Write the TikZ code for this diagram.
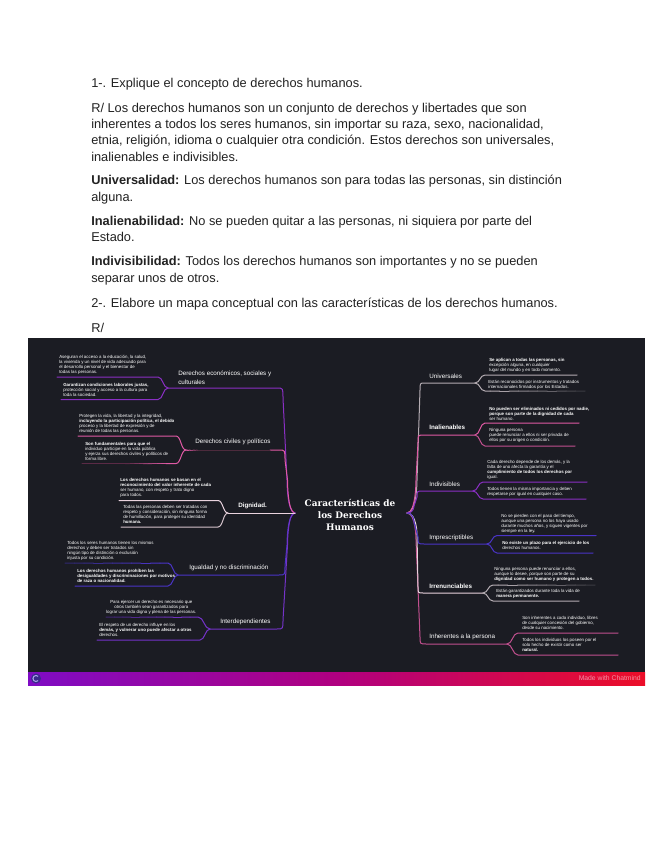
\documentclass[tikz,border=0pt]{standalone}
\usepackage{fontspec}
\setmainfont{Liberation Sans}
\newfontfamily\rootfont{DejaVu Serif}
\usetikzlibrary{calc}
\definecolor{bgdark}{HTML}{1B1C23}
\definecolor{bodyink}{HTML}{222222}
\definecolor{cpurple}{HTML}{8A2FC4}
\definecolor{cpink}{HTML}{E05AA5}
\definecolor{cpale}{HTML}{EAD3DE}
\definecolor{cblue}{HTML}{4A34C6}
\definecolor{cviolet}{HTML}{7433C8}
\definecolor{cgray}{HTML}{B4ACB2}
\definecolor{crose}{HTML}{C2508F}
\definecolor{cdarkgray}{HTML}{3B3B42}
\definecolor{cmaroon}{HTML}{4C2A3C}
\definecolor{cdarkblue}{HTML}{2F2870}
\definecolor{cdarkviolet}{HTML}{3E2470}
\definecolor{cdarkrose}{HTML}{5A2A46}
\definecolor{footL}{HTML}{7F0CC4}
\definecolor{footM}{HTML}{B00080}
\definecolor{footR}{HTML}{EC0E28}
\definecolor{logofill}{HTML}{3A2A8C}
\definecolor{logoc}{HTML}{A9A0E8}
\tikzset{
  bodyline/.style={anchor=base west,inner sep=0pt,yshift=-0.75pt,text=bodyink,font=\fontsize{9.6}{11}\selectfont},
  leaf/.style={anchor=west,inner sep=0pt,text=white,align=left,font=\fontsize{3.3}{3.75}\selectfont},
  leafc/.style={leaf,align=center},
  branchlabel/.style={anchor=west,inner sep=0pt,text=white,align=left,font=\fontsize{4.7}{6.6}\selectfont},
  rootlabel/.style={inner sep=0pt,text=white,align=center,font=\rootfont\bfseries\fontsize{6.7}{9}\selectfont},
  conn/.style={line width=0.75pt,line cap=round,line join=round},
}
% trunk: root, a, b, elbow, fork
\newcommand{\trunk}[6]{\draw[conn,#1] (#2) .. controls (#3 |- #2) and (#3) .. (#3) -- (#4) .. controls (#4 |- #5) and (#4 |- #5) .. (#5) -- (#6);}
% twig: fork, knee, end
\newcommand{\twig}[4]{\draw[conn,#1] (#2) .. controls ($(#2)!0.5!(#3 |- #2)$) and ($(#3)!0.5!(#2 |- #3)$) .. (#3) -- (#4);}
% fading straight line
\newcommand{\fadeline}[4]{\foreach \i in {0,...,9}{\pgfmathsetmacro{\ta}{\i/10}\pgfmathsetmacro{\tb}{(\i+1)/10}\pgfmathtruncatemacro{\pc}{\i*100/9}\draw[conn,color=#4!\pc!#3] ($(#1)!\ta!(#2)$) -- ($(#1)!\tb!(#2)$);}}
\begin{document}
\begin{tikzpicture}[x=0.75pt,y=-0.75pt]
\useasboundingbox (0,0) rectangle (655,848);
\fill[white] (0,0) rectangle (655,848);
% body text
\node[bodyline] (p1) at (91,87) {1-. Explique el concepto de derechos humanos.};
\node[bodyline] (p2a) at (91,112) {R/ Los derechos humanos son un conjunto de derechos y libertades que son};
\node[bodyline] (p2b) at (91,128) {inherentes a todos los seres humanos, sin importar su raza, sexo, nacionalidad,};
\node[bodyline] (p2c) at (91,144) {etnia, religión, idioma o cualquier otra condición. Estos derechos son universales,};
\node[bodyline] (p2d) at (91,161) {inalienables e indivisibles.};
\node[bodyline] (p3a) at (91,184) {\textbf{Universalidad:} Los derechos humanos son para todas las personas, sin distinción};
\node[bodyline] (p3b) at (91,201) {alguna.};
\node[bodyline] (p4a) at (91,225) {\textbf{Inalienabilidad:} No se pueden quitar a las personas, ni siquiera por parte del};
\node[bodyline] (p4b) at (91,241) {Estado.};
\node[bodyline] (p5a) at (91,265) {\textbf{Indivisibilidad:} Todos los derechos humanos son importantes y no se pueden};
\node[bodyline] (p5b) at (91,281) {separar unos de otros.};
\node[bodyline] (p6) at (91,306) {2-. Elabore un mapa conceptual con las características de los derechos humanos.};
\node[bodyline] (p7) at (91,331) {R/};
% panel
\fill[bgdark] (28,338) rectangle (645,672);
\shade[left color=footL,right color=footR,middle color=footM] (28,672) rectangle (645,685);
\fill[logofill] (36,678.5) circle (5);
\draw[line width=0.8pt,color=logoc] (38.1,680.6) arc (45:315:3);
\node[anchor=east,inner sep=0pt,text=white,opacity=.55,font=\fontsize{5.1}{6}\selectfont] (made) at (641,678) {Made with Chatmind};
% root and anchors
\node[rootlabel] (root) at (350,514.5) {Características de\\los Derechos\\Humanos};
\coordinate (rL) at (295,513);
\coordinate (rR) at (407,513);
% left forks
\coordinate (fa) at (168,388); \coordinate (fb) at (186,450); \coordinate (fc) at (228,513); \coordinate (fd) at (178,575); \coordinate (fe) at (210,629);
\trunk{cpurple}{rL}{287,480}{283,398}{277,388}{fa}
\trunk{cpink}{rL}{287.5,480}{285,460}{279,450}{270,450}
\fadeline{fb}{200,450}{cpink}{cmaroon}
\draw[conn,cmaroon] (200,450) -- (270,450);
\trunk{cblue}{rL}{287,545}{285,566}{279,575}{fd}
\trunk{cviolet}{rL}{287.5,545}{283,620}{277,629}{fe}
\draw[conn,cpale] (rL) -- (fc);
% left twigs
\twig{cpurple}{fa}{158,377}{57,377}
\twig{cpurple}{fa}{158,399.5}{61,399.5}
\twig{cpink}{fb}{176,436}{78,436}
\twig{cpink}{fb}{176,463.5}{170,463.5}
\fadeline{170,463.5}{125,463.5}{cpink}{cdarkrose}
\draw[conn,cdarkrose] (125,463.5) -- (82,463.5);
\twig{cpale}{fc}{218,500.5}{119,500.5}
\twig{cpale!80!gray}{fc}{218,527}{121,527}
\twig{cblue}{fd}{168,563}{160,563}
\fadeline{160,563}{65,563}{cblue}{cdarkblue}
\twig{cblue}{fd}{168,586}{75,586}
\twig{cviolet}{fe}{198,617}{190,617}
\fadeline{190,617}{106,617}{cviolet}{cdarkviolet}
\twig{cviolet}{fe}{200,640}{97,640}
% right forks
\coordinate (ga) at (475,383); \coordinate (gb) at (475,435); \coordinate (gc) at (473,491); \coordinate (gd) at (487,544); \coordinate (ge) at (483,593); \coordinate (gf) at (507,644);
\trunk{crose}{rR}{416,540}{420,637}{426,644}{gf}
\trunk{cpale}{rR}{417,535}{418,587}{423,593}{ge}
\trunk{cgray}{rR}{417,480}{420,390}{425,383}{ga}
\trunk{cpink}{rR}{416,480}{418,442}{424,435}{gb}
\trunk{cpurple}{rR}{414,506}{417,497}{423,491}{gc}
\trunk{cblue}{rR}{414,522}{418,537}{424,544}{gd}
% right twigs
\twig{cgray}{ga}{485,375}{577,375}
\twig{cgray}{ga}{485,391}{490,391}
\fadeline{490,391}{585,391}{cgray}{cdarkgray}
\twig{cpink}{gb}{485,423}{579,423}
\twig{crose}{gb}{485,446}{575,446}
\twig{cpurple}{gc}{483,482}{587,482}
\twig{cpurple}{gc}{483,499}{586,499}
\twig{cblue}{gd}{497,535.5}{596,535.5}
\twig{cblue}{gd}{497,553}{593,553}
\twig{cgray}{ge}{493,585}{498,585}
\fadeline{498,585}{595,585}{cgray}{cdarkgray}
\twig{cgray}{ge}{493,601}{579,601}
\twig{crose}{gf}{518,633}{618,633}
\twig{crose}{gf}{518,655}{618,655}
% branch labels left
\node[branchlabel] (ba) at (178,377.5) {Derechos económicos, sociales y\\culturales};
\node[branchlabel] (bb) at (195,442) {Derechos civiles y políticos};
\node[branchlabel] (bc) at (238,506) {\textbf{Dignidad.}};
\node[branchlabel] (bd) at (189,568) {Igualdad y no discriminación};
\node[branchlabel] (be) at (220,622) {Interdependientes};
% branch labels right
\node[branchlabel] (ra) at (429,376) {Universales};
\node[branchlabel] (rb) at (429,427) {\textbf{Inalienables}};
\node[branchlabel] (rc) at (429,484) {Indivisibles};
\node[branchlabel] (rd) at (429,538) {Imprescriptibles};
\node[branchlabel] (re) at (429,586) {\textbf{Irrenunciables}};
\node[branchlabel] (rf) at (429,637) {Inherentes a la persona};
% leaf texts left
\node[leaf] (ta1) at (59,364.5) {Aseguran el acceso a la educación, la salud,\\la vivienda y un nivel de vida adecuado para\\el desarrollo personal y el bienestar de\\todas las personas.};
\node[leaf] (ta2) at (63,390) {\textbf{Garantizan condiciones laborales justas,}\\protección social y acceso a la cultura para\\toda la sociedad.};
\node[leaf] (tb1) at (79,423.5) {Protegen la vida, la libertad y la integridad,\\\textbf{incluyendo la participación política, el debido}\\proceso y la libertad de expresión y de\\reunión de todas las personas.};
\node[leaf] (tb2) at (85,451) {\textbf{Son fundamentales para que el}\\individuo participe en la vida pública\\y ejerza sus derechos civiles y políticos de\\forma libre.};
\node[leaf] (tc1) at (120,487.5) {\textbf{Los derechos humanos se basan en el}\\\textbf{reconocimiento del valor inherente de cada}\\ser humano, con respeto y trato digno\\para todos.};
\node[leaf] (tc2) at (123,514.5) {Todas las personas deben ser tratadas con\\respeto y consideración, sin ninguna forma\\de humillación, para proteger su identidad\\\textbf{humana.}};
\node[leaf] (td1) at (67,551) {Todos los seres humanos tienen los mismos\\derechos y deben ser tratados sin\\ningún tipo de distinción o exclusión\\injusta por su condición.};
\node[leaf] (td2) at (77,576) {\textbf{Los derechos humanos prohíben las}\\\textbf{desigualdades y discriminaciones por motivos}\\\textbf{de raza o nacionalidad.}};
\node[leafc] (te1) at (106,607.5) {Para ejercer un derecho es necesario que\\otros también sean garantizados para\\lograr una vida digna y plena de las personas.};
\node[leaf] (te2) at (99,630) {El respeto de un derecho influye en los\\\textbf{demás, y vulnerar uno puede afectar a otros}\\derechos.};
% leaf texts right
\node[leaf] (ua1) at (489,365) {\textbf{Se aplican a todas las personas, sin}\\excepción alguna, en cualquier\\lugar del mundo y en todo momento.};
\node[leaf] (ua2) at (488,384.5) {Están reconocidos por instrumentos y tratados\\internacionales firmados por los Estados.};
\node[leaf] (ub1) at (489,413.5) {\textbf{No pueden ser eliminados ni cedidos por nadie,}\\\textbf{porque son parte de la dignidad de cada}\\ser humano.};
\node[leaf] (ub2) at (489,435.5) {Ninguna persona\\puede renunciar a ellos ni ser privada de\\ellos por su origen o condición.};
\node[leaf] (uc1) at (487,469.5) {Cada derecho depende de los demás, y la\\falta de uno afecta la garantía y el\\\textbf{cumplimiento de todos los derechos por}\\igual.};
\node[leaf] (uc2) at (487,491.5) {Todos tienen la misma importancia y deben\\respetarse por igual en cualquier caso.};
\node[leaf] (ud1) at (501,523.5) {No se pierden con el paso del tiempo,\\aunque una persona no los haya usado\\durante muchos años, y siguen vigentes por\\siempre en la ley.};
\node[leaf] (ud2) at (502,545.5) {\textbf{No existe un plazo para el ejercicio de los}\\derechos humanos.};
\node[leaf] (ue1) at (494,574.5) {Ninguna persona puede renunciar a ellos,\\aunque lo desee, porque son parte de su\\\textbf{dignidad como ser humano y protegen a todos.}};
\node[leaf] (ue2) at (496,593.5) {Están garantizados durante toda la vida de\\\textbf{manera permanente.}};
\node[leaf] (uf1) at (522,623) {Son inherentes a cada individuo, libres\\de cualquier concesión del gobierno,\\desde su nacimiento.};
\node[leaf] (uf2) at (522,645) {Todos los individuos los poseen por el\\solo hecho de existir como ser\\\textbf{natural.}};
\end{tikzpicture}
\end{document}
